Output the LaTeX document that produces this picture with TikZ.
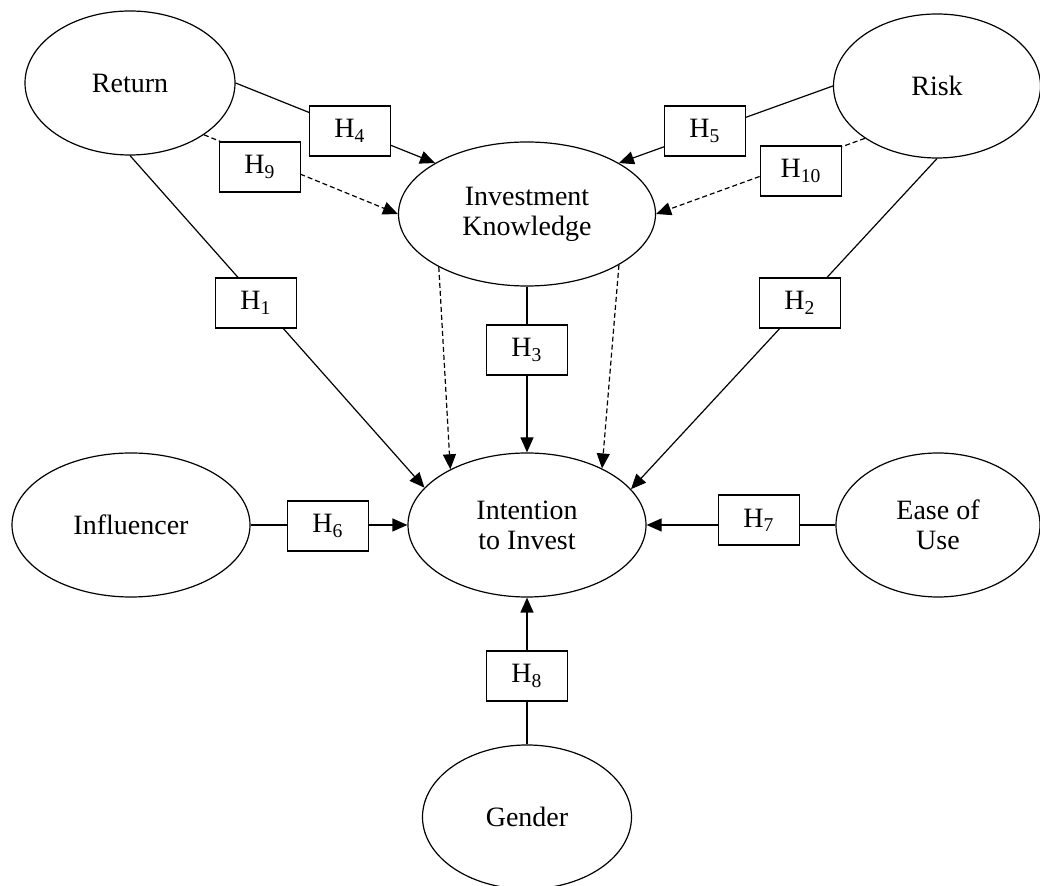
\documentclass[tikz,border=0pt]{standalone}
\usepackage{fontspec}
\setmainfont{Liberation Serif}
\usepackage{tikz}
\usetikzlibrary{shapes.geometric, arrows.meta}

\begin{document}
\begin{tikzpicture}[x = 0.5pt, y = -0.5pt,
    construct/.style = {ellipse, draw, line width = 0.6pt, minimum height = 72pt, inner sep = 0pt, align = center, font = \fontsize{14}{15}\selectfont},
    hyp/.style = {rectangle, draw, fill = white, line width = 0.6pt, minimum width = 40.5pt, minimum height = 25pt, inner sep = 0pt, font = \fontsize{14}{15}\selectfont},
    link/.style = {line width = 0.6pt, -{Triangle[length = 7.5pt, width = 6.5pt]}},
    mediation/.style = {link, dash pattern = on 2.5pt off 1.5pt}]

    \useasboundingbox (0,0) rectangle (1040,886);

    % constructs
    \node (ret) [construct, minimum width = 105pt] at (130,83) {Return};
    \node (risk) [construct, minimum width = 103.5pt] at (937,86) {Risk};
    \node (ik) [construct, minimum width = 128.5pt] at (527,214) {Investment\\Knowledge};
    \node (ii) [construct, minimum width = 119pt] at (527,525) {Intention\\to Invest};
    \node (infl) [construct, minimum width = 119pt] at (131,525) {Influencer};
    \node (ease) [construct, minimum width = 102pt] at (938,525) {Ease of\\Use};
    \node (gen) [construct, minimum width = 104.5pt] at (527,817) {Gender};

    % direct paths
    \draw [link] (ret.east) -- (ik.151);
    \draw [link] (risk.west) -- (ik.29);
    \draw [link] (ret.south) -- (ii.160);
    \draw [link] (risk.south) -- (ii.19);
    \draw [link] (ik.south) -- (ii.north);
    \draw [link] (infl.east) -- (ii.west);
    \draw [link] (ease.west) -- (ii.east);
    \draw [link] (gen.north) -- (ii.south);

    % mediated paths
    \draw [mediation] (ret.-35) -- (ik.west);
    \draw [mediation] (risk.216) -- (ik.east);
    \draw [mediation] (ik.211) -- (ii.144);
    \draw [mediation] (ik.-29) -- (ii.37);

    % hypotheses
    \node (h1) [hyp] at (256,303) {H\textsubscript{1}};
    \node (h2) [hyp] at (800,303) {H\textsubscript{2}};
    \node (h3) [hyp] at (527,350) {H\textsubscript{3}};
    \node (h4) [hyp] at (350,131) {H\textsubscript{4}};
    \node (h5) [hyp] at (705,131) {H\textsubscript{5}};
    \node (h6) [hyp] at (328,526) {H\textsubscript{6}};
    \node (h7) [hyp] at (759,520) {H\textsubscript{7}};
    \node (h8) [hyp] at (527,676) {H\textsubscript{8}};
    \node (h9) [hyp] at (260,167) {H\textsubscript{9}};
    \node (h10) [hyp] at (801,171) {H\textsubscript{10}};
\end{tikzpicture}
\end{document}
